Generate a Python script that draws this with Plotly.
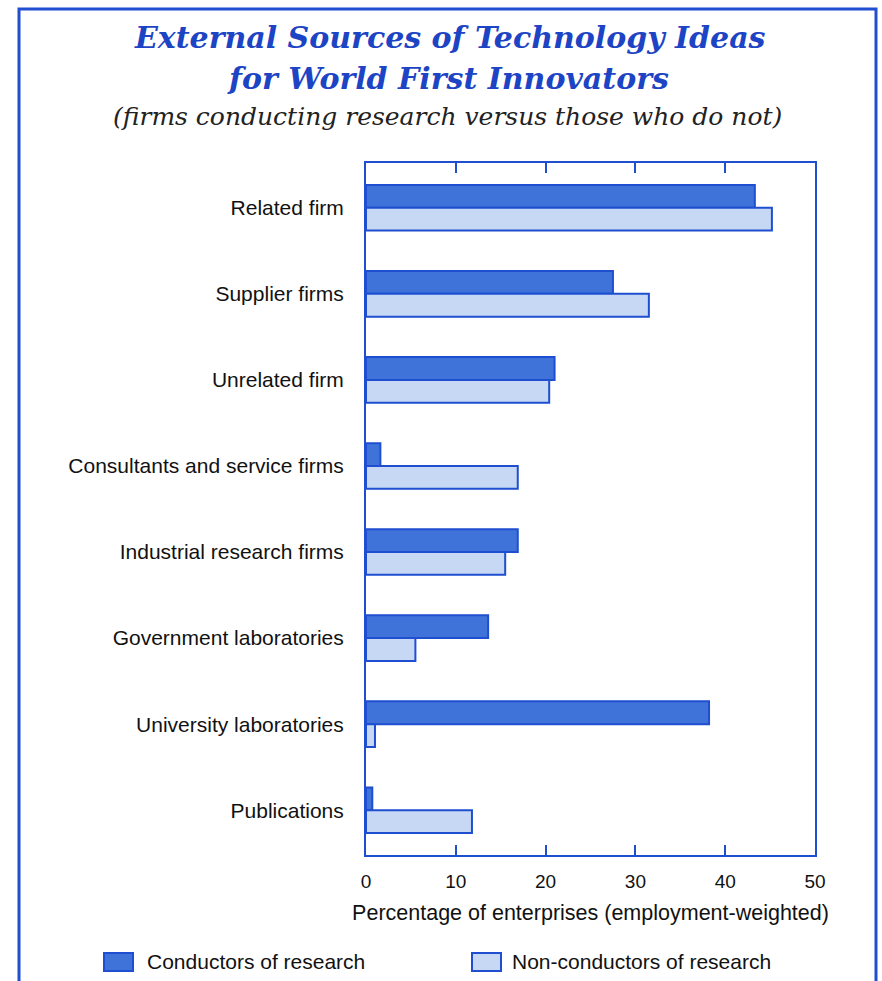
import plotly.graph_objects as go

categories = ["Related firm", "Supplier firms", "Unrelated firm",
              "Consultants and service firms", "Industrial research firms",
              "Government laboratories", "University laboratories", "Publications"]
conductors = [43.3, 27.5, 21.0, 1.6, 16.9, 13.6, 38.2, 0.7]
non_conductors = [45.2, 31.5, 20.4, 16.9, 15.5, 5.5, 1.0, 11.8]
series_names = ["Conductors of research", "Non-conductors of research"]
x_ticks = [0, 10, 20, 30, 40, 50]

BLUE = "#1f4fd0"
DARK = "#3f73d9"
LIGHT = "#c6d8f4"

W, H = 882, 981
L, T = 366, 163
R, B = W - 815, H - 855
pw, ph = W - L - R, H - T - B


def px(x):
    return (x - L) / pw


def py(y):
    return (H - B - y) / ph


fig = go.Figure()
fig.add_trace(go.Bar(y=categories, x=conductors, orientation="h",
                     name=series_names[0], showlegend=False,
                     marker=dict(color=DARK, line=dict(color=BLUE, width=2))))
fig.add_trace(go.Bar(y=categories, x=non_conductors, orientation="h",
                     name=series_names[1], showlegend=False,
                     marker=dict(color=LIGHT, line=dict(color=BLUE, width=2))))

fig.update_layout(
    width=W, height=H,
    margin=dict(l=L, r=R, t=T, b=B, autoexpand=False),
    paper_bgcolor="white", plot_bgcolor="white",
    barmode="group", bargap=0.47, bargroupgap=0,
    font=dict(family="Liberation Sans, Arial, sans-serif", size=21, color="#111"),
    showlegend=False,
    xaxis=dict(range=[0, 50], tickvals=x_ticks, ticks="inside", ticklen=10,
               tickwidth=2, tickcolor=BLUE, showline=True, linecolor=BLUE,
               linewidth=2, mirror="ticks", showgrid=False, zeroline=False,
               ticklabelstandoff=8,
               tickfont=dict(size=19, color="#111"),
               title=dict(text="Percentage of enterprises (employment-weighted)",
                          font=dict(size=21.5, color="#111"), standoff=14)),
    yaxis=dict(categoryorder="array", categoryarray=categories,
               range=[7.52, -0.52], showline=True, linecolor=BLUE, linewidth=2,
               mirror=True, showgrid=False, zeroline=False, ticks="",
               ticklabelstandoff=16, tickfont=dict(size=21, color="#111")),
)

title_font = dict(family="DejaVu Serif, serif", size=30, color="#1c44c4")
fig.add_annotation(text="<b><i>External Sources of Technology Ideas</i></b>",
                   xref="paper", yref="paper", x=px(450), y=py(37),
                   showarrow=False, font=title_font, xanchor="center", yanchor="middle")
fig.add_annotation(text="<b><i>for World First Innovators</i></b>",
                   xref="paper", yref="paper", x=px(448), y=py(78),
                   showarrow=False, font=title_font, xanchor="center", yanchor="middle")
fig.add_annotation(text="<i>(firms conducting research versus those who do not)</i>",
                   xref="paper", yref="paper", x=px(447), y=py(117),
                   showarrow=False, xanchor="center", yanchor="middle",
                   font=dict(family="DejaVu Serif, serif", size=25, color="#222"))

# outer frame
fig.add_shape(type="rect", xref="paper", yref="paper",
              x0=px(19), x1=px(876), y0=py(1000), y1=py(9),
              line=dict(color=BLUE, width=3), fillcolor="rgba(0,0,0,0)", layer="below")

# legend (swatches + labels)
legend_items = [(series_names[0], DARK, 104, 145), (series_names[1], LIGHT, 472, 510)]
for name, col, sx, tx in legend_items:
    fig.add_shape(type="rect", xref="paper", yref="paper",
                  x0=px(sx), x1=px(sx + 29), y0=py(971), y1=py(953),
                  line=dict(color=BLUE, width=2), fillcolor=col)
    fig.add_annotation(text=name, xref="paper", yref="paper", x=px(tx), y=py(962),
                       showarrow=False, xanchor="left", yanchor="middle",
                       font=dict(size=21, color="#111"))

fig.write_html("out.html", config={"displayModeBar": False},
               post_script="document.body.style.margin='0';document.body.style.overflow='hidden';")
